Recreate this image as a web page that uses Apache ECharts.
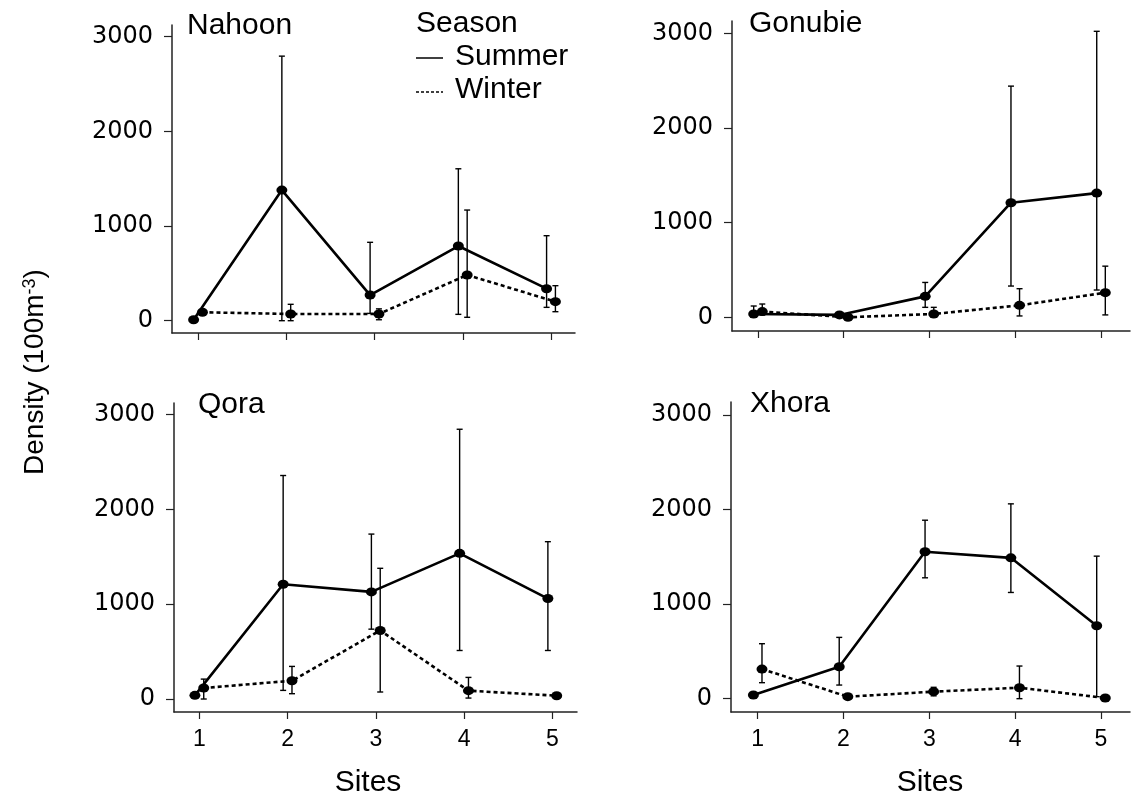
<!DOCTYPE html>
<html><head><meta charset="utf-8">
<script src="https://cdn.jsdelivr.net/npm/echarts@6/dist/echarts.min.js"></script>
<style>html,body{margin:0;padding:0;background:#fff}#c{width:1135px;height:798px}</style>
</head><body><div id="c"></div>
<script>
// ---- data ----
const sites = [1, 2, 3, 4, 5];
const yTickValues = [0, 1000, 2000, 3000];
const panelNames = ['Nahoon', 'Gonubie', 'Qora', 'Xhora'];
const seasons = ['Summer', 'Winter'];

const nahoonSummerMean = [10, 1380, 271, 789, 338];
const nahoonSummerLow  = [null, 0, 77, 67, 141];
const nahoonSummerHigh = [null, 2795, 828, 1605, 898];
const nahoonWinterMean = [89, 71, 71, 483, 201];
const nahoonWinterLow  = [null, 0, 10, 36, 95];
const nahoonWinterHigh = [null, 173, 125, 1169, 370];

const gonubieSummerMean = [35, 25, 221, 1210, 1312];
const gonubieSummerLow  = [0, null, 105, 330, 288];
const gonubieSummerHigh = [119, null, 368, 2442, 3021];
const gonubieWinterMean = [60, 0, 35, 126, 260];
const gonubieWinterLow  = [25, null, 7, 14, 25];
const gonubieWinterHigh = [140, null, 105, 302, 540];

const qoraSummerMean = [39, 1211, 1130, 1537, 1060];
const qoraSummerLow  = [null, 91, 737, 512, 512];
const qoraSummerHigh = [null, 2358, 1740, 2846, 1660];
const qoraWinterMean = [116, 193, 723, 88, 35];
const qoraWinterLow  = [0, 56, 74, 10, null];
const qoraWinterHigh = [210, 344, 1379, 228, null];

const xhoraSummerMean = [39, 338, 1553, 1489, 771];
const xhoraSummerLow  = [null, 144, 1278, 1123, 21];
const xhoraSummerHigh = [null, 648, 1887, 2060, 1507];
const xhoraWinterMean = [313, 21, 74, 116, 7];
const xhoraWinterLow  = [169, null, 30, 0, null];
const xhoraWinterHigh = [581, null, 120, 345, null];

// ---- assemble ----
const panelData = [
  {s: [nahoonSummerMean, nahoonSummerLow, nahoonSummerHigh], w: [nahoonWinterMean, nahoonWinterLow, nahoonWinterHigh]},
  {s: [gonubieSummerMean, gonubieSummerLow, gonubieSummerHigh], w: [gonubieWinterMean, gonubieWinterLow, gonubieWinterHigh]},
  {s: [qoraSummerMean, qoraSummerLow, qoraSummerHigh], w: [qoraWinterMean, qoraWinterLow, qoraWinterHigh]},
  {s: [xhoraSummerMean, xhoraSummerLow, xhoraSummerHigh], w: [xhoraWinterMean, xhoraWinterLow, xhoraWinterHigh]}
];

// layout (pixels / axis extents)
const layout = [
  {left: 172, top: 25,  width: 403, height: 308, ymin: -130, ymax: 3124, xmin: 0.705, xmax: 5.272, xlabels: false, tx: 187, ty: 26},
  {left: 732, top: 21,  width: 398, height: 310, ymin: -145, ymax: 3130, xmin: 0.697, xmax: 5.338, xlabels: false, tx: 749, ty: 24},
  {left: 174, top: 403, width: 403, height: 309, ymin: -137, ymax: 3123, xmin: 0.713, xmax: 5.28,  xlabels: true,  tx: 198, ty: 405},
  {left: 731, top: 402, width: 399, height: 310, ymin: -141, ymax: 3137, xmin: 0.689, xmax: 5.338, xlabels: true,  tx: 750, ty: 404}
];
const dodge = 0.05;
const axisColor = '#222';
const fontMain = 'Liberation Sans, Arial, sans-serif';

function renderErr(params, api) {
  const x = api.value(0), lo = api.value(1), hi = api.value(2);
  const p1 = api.coord([x, hi]), p2 = api.coord([x, lo]);
  const w = 3;
  const st = {stroke: '#000', lineWidth: 1.4};
  return {type: 'group', children: [
    {type: 'line', shape: {x1: p1[0], y1: p1[1], x2: p2[0], y2: p2[1]}, style: st},
    {type: 'line', shape: {x1: p1[0] - w, y1: p1[1], x2: p1[0] + w, y2: p1[1]}, style: st},
    {type: 'line', shape: {x1: p2[0] - w, y1: p2[1], x2: p2[0] + w, y2: p2[1]}, style: st}
  ]};
}

const grid = [], xAxis = [], yAxis = [], series = [], graphic = [];
layout.forEach((L, i) => {
  grid.push({left: L.left, top: L.top, width: L.width, height: L.height});
  xAxis.push({
    type: 'value', gridIndex: i, min: L.xmin, max: L.xmax,
    axisLine: {show: true, onZero: false, lineStyle: {color: axisColor, width: 1.5}},
    axisTick: {show: true, length: 7, customValues: sites, lineStyle: {color: axisColor, width: 1.2}},
    axisLabel: {show: L.xlabels, customValues: sites, margin: 16, fontSize: 23, color: '#000', fontFamily: fontMain,
      formatter: v => String(v)},
    splitLine: {show: false}
  });
  yAxis.push({
    type: 'value', gridIndex: i, min: L.ymin, max: L.ymax,
    axisLine: {show: true, onZero: false, lineStyle: {color: axisColor, width: 1.5}},
    axisTick: {show: true, length: 8, customValues: yTickValues, lineStyle: {color: axisColor, width: 1.2}},
    axisLabel: {show: true, customValues: yTickValues, margin: 19, fontSize: 24, color: '#000', fontFamily: 'DejaVu Sans, sans-serif',
      formatter: v => String(v)},
    splitLine: {show: false}
  });
  const d = panelData[i];
  [['s', -dodge, 'solid', seasons[0]], ['w', dodge, [4, 3], seasons[1]]].forEach(([k, off, lt, name]) => {
    const [mean, lo, hi] = d[k];
    series.push({
      type: 'custom', name: name + ' error', xAxisIndex: i, yAxisIndex: i,
      renderItem: renderErr, encode: {x: 0, y: [1, 2]},
      data: sites.map((s, j) => lo[j] == null ? null : [s + off, lo[j], hi[j]]).filter(v => v),
      silent: true, z: 2
    });
    series.push({
      type: 'line', name: name, xAxisIndex: i, yAxisIndex: i,
      data: sites.map((s, j) => [s + off, mean[j]]),
      symbol: 'circle', symbolSize: [11, 9], showSymbol: true,
      itemStyle: {color: '#000'},
      lineStyle: {color: '#000', width: 2.6, type: lt},
      z: 3
    });
  });
  graphic.push({type: 'text', left: L.tx, top: L.ty - 15, style: {text: panelNames[i], fontSize: 30, fontFamily: fontMain, fill: '#000'}});
});

// Sites labels
graphic.push({type: 'text', x: 368, y: 783, style: {text: 'Sites', fontSize: 30, fontFamily: fontMain, fill: '#000', align: 'center', verticalAlign: 'middle'}});
graphic.push({type: 'text', x: 930, y: 783, style: {text: 'Sites', fontSize: 30, fontFamily: fontMain, fill: '#000', align: 'center', verticalAlign: 'middle'}});
// y title
graphic.push({type: 'text', x: 35, y: 372, rotation: Math.PI / 2,
  style: {text: 'Density (100m{sup|-3})', fontSize: 28, fontFamily: fontMain, fill: '#000', align: 'center', verticalAlign: 'middle',
    rich: {sup: {fontSize: 18, fontFamily: fontMain, fill: '#000', verticalAlign: 'top', padding: [0, 0, 10, 0]}}}});
// legend
graphic.push({type: 'text', x: 416, y: 24, style: {text: 'Season', fontSize: 30, fontFamily: fontMain, fill: '#000', verticalAlign: 'middle'}});
graphic.push({type: 'line', shape: {x1: 416, y1: 58, x2: 443, y2: 58}, style: {stroke: '#000', lineWidth: 1.5}});
graphic.push({type: 'text', x: 455, y: 57, style: {text: seasons[0], fontSize: 30, fontFamily: fontMain, fill: '#000', verticalAlign: 'middle'}});
graphic.push({type: 'line', shape: {x1: 416, y1: 92, x2: 443, y2: 92}, style: {stroke: '#000', lineWidth: 1.5, lineDash: [3, 2]}});
graphic.push({type: 'text', x: 455, y: 90, style: {text: seasons[1], fontSize: 30, fontFamily: fontMain, fill: '#000', verticalAlign: 'middle'}});

const chart = echarts.init(document.getElementById('c'), null, {renderer: 'canvas'});
chart.setOption({animation: false, backgroundColor: '#fff', grid, xAxis, yAxis, series, graphic});
</script></body></html>
